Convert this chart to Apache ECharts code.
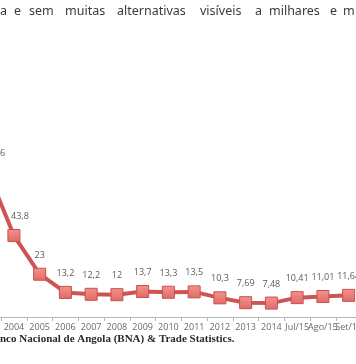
<!DOCTYPE html>
<html><head><meta charset="utf-8">
<script src="https://cdn.jsdelivr.net/npm/echarts@6/dist/echarts.min.js"></script>
<style>html,body{margin:0;padding:0;background:#fff}#c{width:356px;height:364px}</style>
</head><body><div id="c"></div>
<script>
var categories = ['2003','2004','2005','2006','2007','2008','2009','2010','2011','2012','2013','2014','Jul/15','Ago/15','Set/15'];
var values = [77.6, 43.8, 23, 13.2, 12.2, 12, 13.7, 13.3, 13.5, 10.3, 7.69, 7.48, 10.41, 11.01, 11.64];
var valueLabels = ['77,6','43,8','23','13,2','12,2','12','13,7','13,3','13,5','10,3','7,69','7,48','10,41','11,01','11,64'];
var titleWords = ['a','e','sem','muitas','alternativas','visíveis','a','milhares','e','m'];
var titleWordX = [0,14,29,65,117,200,255,269,330,343];
var sourceText = 'nco Nacional de Angola (BNA) & Trade Statistics.';

var chart = echarts.init(document.getElementById('c'));
var seriesData = values.map(function(v, i){
  var d = {value: v};
  if (i === 0) d.label = {offset: [8, 0]};
  if (i === 1) d.label = {offset: [6, 0]};
  return d;
});
var graphics = titleWords.map(function(w, i){
  return {type:'text', left: titleWordX[i], top: 5, style:{text: w, fill:'#3a3a3a', font:'12.5px "Noto Sans", sans-serif'}};
});
graphics.push({type:'text', left: 0, top: 334, style:{text: sourceText, fill:'#2a2a2a', font:'bold 11px "Liberation Serif", serif'}});
chart.setOption({
  animation: false,
  graphic: graphics,
  grid: {left: -24.7, right: -5.5, top: 131, bottom: 47, outerBoundsMode: 'none', containLabel: false},
  xAxis: {
    type: 'category', data: categories, boundaryGap: true,
    axisLine: {lineStyle: {color: '#b5b5b5', width: 1}},
    axisTick: {show: true, alignWithLabel: false, length: 4, lineStyle: {color: '#b5b5b5'}},
    axisLabel: {interval: 0, color: '#6a6a6a', fontSize: 9, fontFamily: 'Open Sans', margin: 6}
  },
  yAxis: {type: 'value', min: 0, max: 100, show: false, splitLine: {show: false}},
  series: [{
    type: 'line', data: seriesData,
    symbol: 'rect', symbolSize: 12,
    lineStyle: {color: '#cc5553', width: 4},
    itemStyle: {
      color: new echarts.graphic.LinearGradient(0,0,0,1,[{offset:0,color:'#f4928f'},{offset:1,color:'#e06a66'}]),
      borderColor: '#c9504d', borderWidth: 1
    },
    label: {
      show: true, position: 'top', distance: 8, color: '#5a5a5a', fontSize: 9, fontFamily: 'Open Sans',
      formatter: function(p){ return valueLabels[p.dataIndex]; }
    }
  }]
});
</script></body></html>
